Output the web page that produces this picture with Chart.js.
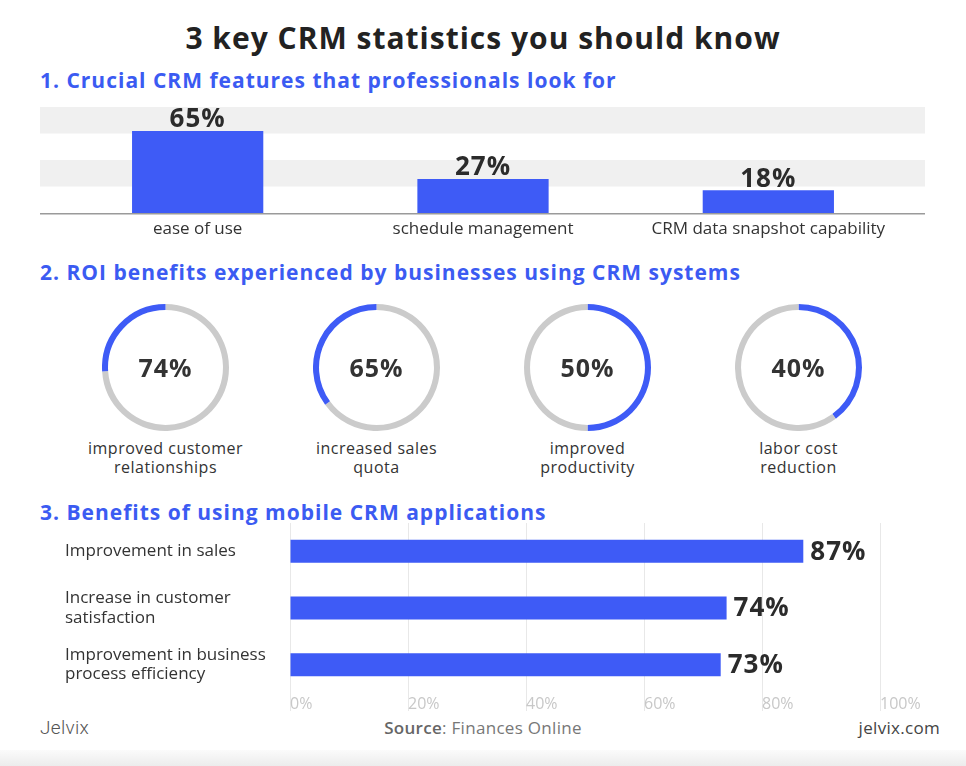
<!DOCTYPE html>
<html>
<head>
<meta charset="utf-8">
<script src="https://cdn.jsdelivr.net/npm/chart.js@4.4.1/dist/chart.umd.min.js"></script>
<style>
  html, body { margin: 0; padding: 0; background: #fff; }
  body { width: 966px; height: 766px; position: relative; overflow: hidden; font-family: "Open Sans", "Noto Sans", sans-serif; color: #333; }
  .abs { position: absolute; }
  h1 { position: absolute; top: 18px; left: 0; width: 966px; margin: 0; text-align: center; font-size: 30px; letter-spacing: 1px; font-weight: 700; color: #222; line-height: 40px; }
  h2 { position: absolute; left: 40px; margin: 0; font-size: 21px; letter-spacing: 1px; font-weight: 700; color: #3b5bf2; line-height: 26px; }
  .ringText { position: absolute; width: 127px; text-align: center; font-size: 25px; letter-spacing: 1px; font-weight: 700; color: #333; line-height: 30px; }
  .ringLabel { position: absolute; width: 220px; text-align: center; font-size: 16px; letter-spacing: 0.5px; line-height: 19px; color: #333; }
  .foot { position: absolute; top: 716px; font-size: 17px; letter-spacing: 0.3px; line-height: 24px; color: #777; }
  .band { position: absolute; left: 0; top: 750px; width: 966px; height: 16px; background: linear-gradient(#fbfbfb, #ececec); }
</style>
</head>
<body>
<h1>3 key CRM statistics you should know</h1>
<h2 style="top:67px">1. Crucial CRM features that professionals look for</h2>
<div class="abs" style="left:40px; top:95px; width:885px; height:150px"><canvas id="features"></canvas></div>

<h2 style="top:259px">2. ROI benefits experienced by businesses using CRM systems</h2>
<div id="rings"></div>

<h2 style="top:499px">3. Benefits of using mobile CRM applications</h2>
<div class="abs" style="left:65px; top:515px; width:875px; height:198px"><canvas id="mobile"></canvas></div>

<div class="foot" style="left:40px; font-family:Roboto; font-weight:300; font-size:19px; letter-spacing:0.3px; color:#555">Jelvix</div>
<div class="foot" style="left:0; width:966px; text-align:center"><span style="font-weight:600; color:#666">Source</span>: Finances Online</div>
<div class="foot" style="right:26px; color:#444">jelvix.com</div>
<div class="band"></div>

<script>
// 1. features
const featureLabels = ['ease of use', 'schedule management', 'CRM data snapshot capability'];
const featureValues = [65, 27, 18];

// 2. ROI rings
const roiLabels = ['improved customer<br>relationships', 'increased sales<br>quota', 'improved<br>productivity', 'labor cost<br>reduction'];
const roiValues = [74, 65, 50, 40];

// 3. mobile
const mobileLabels = [['Improvement in sales'], ['Increase in customer', 'satisfaction'], ['Improvement in business', 'process efficiency']];
const mobileValues = [87, 74, 73];
const mobileTicks = [0, 20, 40, 60, 80, 100];

const BLUE = '#3e5bf6';
const GREY = '#cbcbcb';
const FONT = '"Open Sans", "Noto Sans", sans-serif';

Chart.defaults.font.family = FONT;
Chart.defaults.color = '#333';

// grey stripes + baseline behind top bars
const stripes = {
    id: 'stripes',
    beforeDatasetsDraw(chart) {
        const ctx = chart.ctx, y = chart.scales.y;
        ctx.save();
        ctx.fillStyle = '#f0f0f0';
        [[21, 42], [63, 84]].forEach(b => {
            const top = y.getPixelForValue(b[1]), bot = y.getPixelForValue(b[0]);
            ctx.fillRect(0, top, chart.width, bot - top);
        });
        ctx.fillStyle = '#9a9a9a';
        ctx.fillRect(0, y.getPixelForValue(0), chart.width, 1.5);
        ctx.restore();
    }
};

// value labels drawn from the bar elements
function valueLabels(where, size) {
    return {
        id: 'valueLabels',
        afterDatasetsDraw(chart) {
            const ctx = chart.ctx;
            const meta = chart.getDatasetMeta(0);
            ctx.save();
            ctx.fillStyle = '#2b2b2b';
            ctx.font = '700 ' + size + 'px ' + FONT;
            ctx.letterSpacing = '1px';
            meta.data.forEach((bar, i) => {
                const txt = chart.data.datasets[0].data[i] + '%';
                if (where === 'top') {
                    ctx.textAlign = 'center';
                    ctx.textBaseline = 'bottom';
                    ctx.fillText(txt, bar.x, bar.y + 2);
                } else {
                    ctx.textAlign = 'left';
                    ctx.textBaseline = 'middle';
                    ctx.fillText(txt, bar.x + 7, bar.y + 1);
                }
            });
            ctx.restore();
        }
    };
}

new Chart(document.getElementById('features'), {
    type: 'bar',
    data: {
        labels: featureLabels,
        datasets: [{ data: featureValues, backgroundColor: BLUE, barPercentage: 0.46, categoryPercentage: 1 }]
    },
    options: {
        responsive: true,
        maintainAspectRatio: false,
        animation: false,
        layout: { padding: { top: 12, left: 15, right: 14 } },
        plugins: { legend: { display: false }, tooltip: { enabled: false } },
        scales: {
            x: {
                grid: { display: false, drawTicks: false },
                border: { display: false },
                ticks: { padding: 6, font: { size: 17 }, color: '#333' },
                afterFit: s => { s.height = 32; }
            },
            y: { display: false, min: 0, max: 84 }
        }
    },
    plugins: [stripes, valueLabels('top', 26)]
});

// rings
const ringBox = document.getElementById('rings');
roiValues.forEach((v, i) => {
    const cx = 165.5 + i * 211;
    const wrap = document.createElement('div');
    wrap.className = 'abs';
    wrap.style.cssText = `left:${cx - 63.5}px; top:303.5px; width:127px; height:127px`;
    const cv = document.createElement('canvas');
    wrap.appendChild(cv);
    ringBox.appendChild(wrap);

    const t = document.createElement('div');
    t.className = 'ringText';
    t.style.cssText = `left:${cx - 63.5}px; top:352px`;
    t.textContent = v + '%';
    ringBox.appendChild(t);

    const l = document.createElement('div');
    l.className = 'ringLabel';
    l.style.cssText = `left:${cx - 110}px; top:439px`;
    l.innerHTML = roiLabels[i];
    ringBox.appendChild(l);

    // the first two rings show the remainder in blue, the last two the value
    const colors = i < 2 ? [GREY, BLUE] : [BLUE, GREY];
    new Chart(cv, {
        type: 'doughnut',
        data: { datasets: [{ data: [v, 100 - v], backgroundColor: colors, borderWidth: 0 }] },
        options: {
            responsive: true,
            maintainAspectRatio: false,
            animation: false,
            cutout: '90.5%',
            plugins: { legend: { display: false }, tooltip: { enabled: false } }
        }
    });
});

new Chart(document.getElementById('mobile'), {
    type: 'bar',
    data: {
        labels: mobileLabels,
        datasets: [{ data: mobileValues, backgroundColor: BLUE, barPercentage: 0.405, categoryPercentage: 1 }]
    },
    options: {
        indexAxis: 'y',
        responsive: true,
        maintainAspectRatio: false,
        animation: false,
        layout: { padding: { top: 8, right: 60 } },
        plugins: { legend: { display: false }, tooltip: { enabled: false } },
        scales: {
            x: {
                min: 0, max: 100,
                afterBuildTicks: s => { s.ticks = mobileTicks.map(v => ({ value: v })); },
                grid: { color: '#e8e8e8', tickLength: 18, drawTicks: true },
                border: { display: false },
                ticks: { align: 'start', padding: -16, font: { size: 16 }, color: '#c8c8c8', callback: v => v + '%' },
                afterFit: s => { s.height = 20; }
            },
            y: {
                grid: { display: false },
                border: { display: false },
                ticks: { crossAlign: 'far', font: { size: 17, lineHeight: 1.15 }, color: '#333' },
                afterFit: s => { s.width = 225; s.paddingTop = 0; s.paddingBottom = 0; }
            }
        }
    },
    plugins: [valueLabels('right', 26)]
});
</script>
</body>
</html>
